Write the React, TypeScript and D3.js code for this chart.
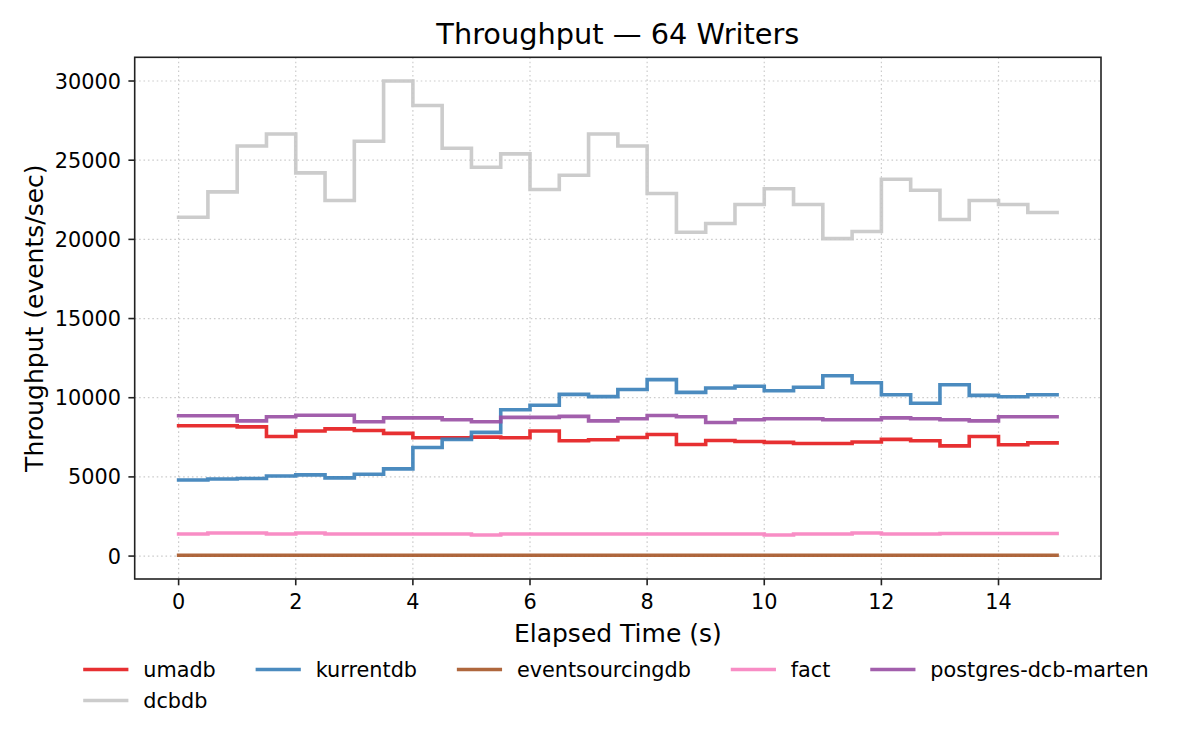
import React, { useMemo } from 'react';
import * as d3 from 'd3';

// bin start times (s); each bin lasts until the next one, the last until END_TIME
const TIMES = [0, 0.5, 1, 1.5, 2, 2.5, 3, 3.5, 4, 4.5, 5, 5.5, 6, 6.5, 7, 7.5, 8, 8.5, 9, 9.5, 10, 10.5, 11, 11.5, 12, 12.5, 13, 13.5, 14, 14.5];
const END_TIME = 15;

const UMADB = [8230, 8230, 8160, 7550, 7900, 8030, 7930, 7750, 7470, 7470, 7510, 7470, 7900, 7280, 7350, 7490, 7680, 7050, 7300, 7240, 7180, 7110, 7110, 7200, 7370, 7280, 6960, 7550, 7030, 7150];
const DCBDB = [21400, 23000, 25900, 26650, 24200, 22450, 26200, 30000, 28450, 25750, 24550, 25400, 23150, 24050, 26650, 25900, 22900, 20450, 21000, 22200, 23200, 22200, 20050, 20500, 23800, 23100, 21250, 22450, 22200, 21700];
const KURRENTDB = [4800, 4870, 4900, 5060, 5130, 4940, 5170, 5510, 6860, 7370, 7810, 9240, 9520, 10210, 10070, 10520, 11140, 10340, 10610, 10720, 10440, 10660, 11390, 10950, 10190, 9650, 10820, 10150, 10060, 10190];
const EVENTSOURCINGDB = [50, 50, 50, 50, 50, 50, 50, 50, 50, 50, 50, 50, 50, 50, 50, 50, 50, 50, 50, 50, 50, 50, 50, 50, 50, 50, 50, 50, 50, 50];
const FACT = [1390, 1460, 1460, 1390, 1460, 1390, 1390, 1390, 1390, 1390, 1330, 1390, 1390, 1390, 1390, 1390, 1390, 1390, 1390, 1390, 1330, 1390, 1390, 1460, 1390, 1390, 1430, 1430, 1430, 1430];
const POSTGRES_DCB_MARTEN = [8860, 8860, 8540, 8800, 8890, 8890, 8480, 8730, 8730, 8610, 8480, 8760, 8760, 8820, 8540, 8670, 8880, 8800, 8440, 8610, 8670, 8670, 8610, 8610, 8730, 8670, 8610, 8540, 8800, 8800];

const SERIES_NAMES = ['umadb', 'dcbdb', 'kurrentdb', 'eventsourcingdb', 'fact', 'postgres-dcb-marten'];
const SERIES_VALUES = [UMADB, DCBDB, KURRENTDB, EVENTSOURCINGDB, FACT, POSTGRES_DCB_MARTEN];
const SERIES_COLORS = ['#e41a1c', '#c6c6c6', '#377eb8', '#a65628', '#f781bf', '#984ea3'];

const X_TICKS = [0, 2, 4, 6, 8, 10, 12, 14];
const Y_TICKS = [0, 5000, 10000, 15000, 20000, 25000, 30000];

const TITLE = 'Throughput — 64 Writers';
const X_LABEL = 'Elapsed Time (s)';
const Y_LABEL = 'Throughput (events/sec)';

const W = 1200;
const H = 750;
const FONT = '"DejaVu Sans", sans-serif';
const box = { left: 134.7, right: 1101, top: 57.3, bottom: 579 };
const LEGEND_COLS = 5;
const TICK_FS = 20.8;
const LABEL_FS = 25;
const TITLE_FS = 28.8;
const LINE_W = 3.6;

export default function App() {
  const allValues = SERIES_VALUES.flat();
  const yMin = d3.min(allValues) as number;
  const yMax = d3.max(allValues) as number;
  const yPad = (yMax - yMin) * 0.05;
  const xPad = (END_TIME - TIMES[0]) * 0.05;

  const x = d3.scaleLinear().domain([TIMES[0] - xPad, END_TIME + xPad]).range([box.left, box.right]);
  const y = d3.scaleLinear().domain([yMin - yPad, yMax + yPad]).range([box.bottom, box.top]);

  const line = d3.line<[number, number]>()
    .x(d => x(d[0]))
    .y(d => y(d[1]))
    .curve(d3.curveStepAfter);

  const paths = SERIES_VALUES.map(vals => {
    const pts: [number, number][] = TIMES.map((t, i) => [t, vals[i]]);
    pts.push([END_TIME, vals[vals.length - 1]]);
    return line(pts) as string;
  });

  // legend laid out column-major like matplotlib
  const legend = useMemo(() => {
    const fontSize = 20.8;
    const ctx = document.createElement('canvas').getContext('2d')!;
    ctx.font = `${fontSize}px ${FONT}`;
    const n = SERIES_NAMES.length;
    const nrows = Math.ceil(n / LEGEND_COLS);
    let numLarge = n % LEGEND_COLS;
    if (numLarge === 0) numLarge = LEGEND_COLS;
    const cols: number[][] = [];
    let idx = 0;
    for (let c = 0; c < LEGEND_COLS; c++) {
      const size = c < numLarge ? nrows : nrows - 1;
      const col: number[] = [];
      for (let r = 0; r < size && idx < n; r++) col.push(idx++);
      cols.push(col);
    }
    const handleLen = 2.0 * fontSize;
    const textPad = 0.8 * fontSize;
    const colGap = 2.0 * fontSize;
    const items: { i: number; x: number; row: number }[] = [];
    let cx = 85;
    cols.forEach(col => {
      let maxW = 0;
      col.forEach((i, row) => {
        items.push({ i, x: cx, row });
        maxW = Math.max(maxW, ctx.measureText(SERIES_NAMES[i]).width);
      });
      cx += handleLen + textPad + maxW + colGap;
    });
    return { items, handleLen, textPad, fontSize };
  }, []);

  const legendRowY = [669.5, 700.5];

  return (
    <svg width={W} height={H} style={{ position: 'absolute', left: 0, top: 0, background: '#fff' }} fontFamily={FONT}>
      <rect width={W} height={H} fill="#fff" />

      {/* grid */}
      <g stroke="#cccccc" strokeWidth={1.2} strokeDasharray="1.6,2.8">
        {X_TICKS.map(t => (
          <line key={'gx' + t} x1={x(t)} x2={x(t)} y1={box.top} y2={box.bottom} />
        ))}
        {Y_TICKS.map(t => (
          <line key={'gy' + t} x1={box.left} x2={box.right} y1={y(t)} y2={y(t)} />
        ))}
      </g>

      {/* series */}
      <g fill="none" strokeWidth={LINE_W} strokeOpacity={0.9} strokeLinejoin="miter" strokeLinecap="square">
        {paths.map((p, i) => (
          <path key={SERIES_NAMES[i]} d={p} stroke={SERIES_COLORS[i]} />
        ))}
      </g>

      {/* frame */}
      <rect x={box.left} y={box.top} width={box.right - box.left} height={box.bottom - box.top}
        fill="none" stroke="#222" strokeWidth={1.6} />

      {/* x ticks */}
      <g fontSize={TICK_FS} fill="#000" textAnchor="middle">
        {X_TICKS.map(t => (
          <g key={'xt' + t}>
            <line x1={x(t)} x2={x(t)} y1={box.bottom} y2={box.bottom + 6.3} stroke="#222" strokeWidth={1.6} />
            <text x={x(t)} y={609}>{t}</text>
          </g>
        ))}
      </g>

      {/* y ticks */}
      <g fontSize={TICK_FS} fill="#000" textAnchor="end">
        {Y_TICKS.map(t => (
          <g key={'yt' + t}>
            <line x1={box.left - 6.3} x2={box.left} y1={y(t)} y2={y(t)} stroke="#222" strokeWidth={1.6} />
            <text x={121} y={y(t)} dy="0.36em">{t}</text>
          </g>
        ))}
      </g>

      {/* labels */}
      <text x={(box.left + box.right) / 2} y={641.5} textAnchor="middle" fontSize={LABEL_FS}>{X_LABEL}</text>
      <text transform={`translate(43, ${(box.top + box.bottom) / 2}) rotate(-90)`} textAnchor="middle" fontSize={LABEL_FS}>{Y_LABEL}</text>
      <text x={(box.left + box.right) / 2} y={44} textAnchor="middle" fontSize={TITLE_FS}>{TITLE}</text>

      {/* legend */}
      <g fontSize={legend.fontSize}>
        {legend.items.map(it => (
          <g key={'lg' + it.i}>
            <line x1={it.x} x2={it.x + legend.handleLen} y1={legendRowY[it.row]} y2={legendRowY[it.row]}
              stroke={SERIES_COLORS[it.i]} strokeOpacity={0.9} strokeWidth={LINE_W} strokeLinecap="square" />
            <text x={it.x + legend.handleLen + legend.textPad} y={legendRowY[it.row]} dy="0.36em">{SERIES_NAMES[it.i]}</text>
          </g>
        ))}
      </g>
    </svg>
  );
}
